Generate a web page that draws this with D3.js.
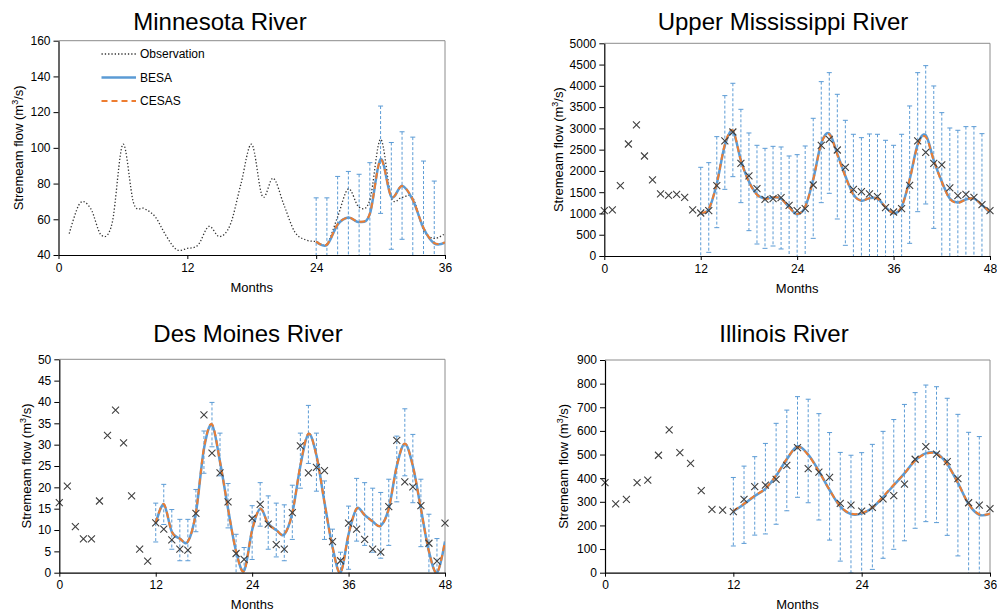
<!DOCTYPE html>
<html>
<head>
<meta charset="utf-8">
<script src="https://cdn.jsdelivr.net/npm/d3@7"></script>
<style>
  html, body { margin: 0; padding: 0; background: #fff; }
  svg { display: block; font-family: "Liberation Sans", Arial, sans-serif; }
</style>
</head>
<body>
<svg id="chart" width="997" height="613"></svg>
<script>
// ---------- Minnesota River (months 1..36 observed, estimates from month 24) ----------
const mnObsStart = 1;
const mnObs = [52, 69, 66, 51, 58, 102, 69, 66, 61.5, 51, 43, 43.7, 45.6, 56, 50.3, 57, 80, 102,
  72.7, 83, 68, 53, 48.5, 47.5, 46.2, 61.4, 77, 66.7, 70.8, 104.8, 72.3, 72.3, 72, 54, 49.3, 52];
const mnFitStart = 24;
const mnBesa  = [47.4, 45.6, 57, 61, 58.4, 63, 93.6, 72.6, 78.8, 70.8, 55, 46.5, 46.9];
const mnCesas = [47.6, 45.8, 57.2, 61, 58.6, 63.2, 93.2, 72.8, 78.6, 71, 55.2, 46.7, 47];
const mnErrStart = 24;
const mnErrHi = [72, 72, 84, 86.8, 85.2, 91.7, 123.4, 103, 109, 106, 92.6, 81.4];
const mnErrLo = [22.8, 19, 30, 35, 31.6, 34, 63.3, 43.2, 48.8, 35.8, 17.4, 11.5];
const mnYTicks = [40, 60, 80, 100, 120, 140, 160];
const mnXTicks = [0, 12, 24, 36];

// ---------- Upper Mississippi River (months 0..48) ----------
const umObsStart = 0;
const umObs = [1066, 1082, 1654, 2633, 3080, 2351, 1787, 1458, 1426, 1450,
  1379, 1082, 1011, 1066, 1654, 2704, 2915, 2179, 1881, 1583,
  1332, 1348, 1371, 1191, 1066, 1113, 1669, 2602, 2743, 2492,
  2085, 1567, 1513, 1458, 1395, 1136, 1034, 1113, 1661, 2704,
  2437, 2179, 2140, 1599, 1418, 1450, 1379, 1207, 1066];
const umFitStart = 12;
const umBesa = [1010, 1100, 1700, 2600, 2930, 2250, 1750, 1450, 1350, 1380, 1350, 1150, 980,
  1150, 1800, 2650, 2880, 2400, 1880, 1450, 1300, 1360, 1350, 1150, 1000,
  1150, 1800, 2620, 2840, 2250, 1750, 1350, 1260, 1330, 1350, 1200, 1020];
const umCesas = [1020, 1110, 1710, 2620, 2950, 2240, 1740, 1440, 1340, 1380, 1350, 1140, 990,
  1160, 1790, 2640, 2860, 2380, 1870, 1440, 1300, 1360, 1350, 1150, 1010,
  1160, 1790, 2600, 2800, 2250, 1740, 1340, 1250, 1330, 1350, 1200, 1030];
const umErrStart = 12;
const umErrHi = [2085, 2194, 2806, 3770, 4060, 3448, 2892, 2602, 2531, 2578, 2563, 2351,
  2382, 2586, 3237, 4099, 4310, 3801, 3190, 2861, 2782, 2868, 2861, 2720,
  2602, 2861, 3527, 4310, 4475, 3997, 3370, 3009, 2955, 3041, 3041, 2876];
const umErrLo = [-60, 86, 666, 1567, 1865, 1254, 596, 282, 180, 235, 165, -50,
  -422, -286, 415, 1254, 1473, 870, 251, -40, -182, -148, -161, -420,
  -602, -561, 298, 1042, 1223, 650, -100, -309, -435, -381, -341, -476];
const umYTicks = [0, 500, 1000, 1500, 2000, 2500, 3000, 3500, 4000, 4500, 5000];
const umXTicks = [0, 12, 24, 36, 48];

// ---------- Des Moines River (months 0..48) ----------
const dmObsStart = 0;
const dmObs = [16.4, 20.3, 10.8, 7.9, 7.9, 16.8, 32.2, 38.1, 30.4, 18.0,
  5.5, 2.7, 11.7, 10.2, 7.7, 5.5, 5.3, 13.9, 37.0, 28.0,
  23.4, 16.6, 4.5, 3.1, 12.7, 16.0, 11.4, 6.6, 5.5, 14.1,
  29.7, 23.4, 24.7, 23.9, 7.3, 2.8, 11.6, 10.2, 7.8, 5.5,
  4.8, 15.5, 31.0, 21.3, 20.1, 15.7, 6.9, 2.7, 11.6];
const dmFitStart = 12;
const dmBesa = [11.5, 16, 9.6, 8, 7.3, 14, 29, 34.6, 26, 15, 5, 0.5, 10,
  15, 11.5, 10, 9, 14, 25, 32.5, 27.5, 16.5, 6, 0, 9,
  15, 13.5, 12, 11, 15, 25, 30.2, 25, 15, 5, 0, 7.3];
const dmCesas = [11.6, 16.1, 9.6, 8, 7.3, 14.1, 29.2, 34.8, 26, 15, 5, 0.4, 10,
  15, 11.4, 10, 9, 14, 25.2, 32.6, 27.4, 16.5, 6, 0, 9,
  15, 13.5, 12, 11, 15, 25, 30.3, 25, 15, 5, 0, 7.4];
const dmErrStart = 12;
const dmErrHi = [16.3, 20.7, 14.8, 12.5, 12.5, 19.5, 33.2, 39.9, 32.7, 20.9, 9.0, 5.9,
  15.7, 21.1, 18.0, 16.3, 15.9, 20.5, 32.7, 39.2, 32.7, 21.5, 10.2, 4.8,
  15.6, 22.1, 21.1, 19.8, 18.8, 21.9, 32.0, 38.4, 32.4, 21.9, 13.7, 8.0];
const dmErrLo = [7.2, 11.3, 5.5, 2.8, 2.8, 9.6, 23.3, 29.5, 22.7, 10.5, -1, -5,
  3.1, 10.9, 5.5, 3.7, 2.8, 7.8, 19.8, 25.6, 19.1, 7.8, -2, -5,
  0.8, 7.4, 6.4, 4.8, 3.4, 6.4, 16.6, 22.7, 16.4, 6.1, -4, -8];
const dmYTicks = [0, 5, 10, 15, 20, 25, 30, 35, 40, 45, 50];
const dmXTicks = [0, 12, 24, 36, 48];

// ---------- Illinois River (months 0..36) ----------
const ilObsStart = 0;
const ilObs = [381, 291, 310, 381, 392, 497, 604, 508, 463, 347,
  268, 265, 258, 310, 364, 371, 395, 454, 529, 440,
  426, 403, 293, 286, 261, 276, 312, 326, 375, 480,
  533, 502, 470, 398, 296, 286, 271];
const ilFitStart = 12;
const ilBesa = [260, 290, 325, 355, 410, 480, 535, 500, 430, 350, 280, 248, 250,
  275, 320, 370, 420, 475, 505, 505, 460, 380, 290, 245, 250];
const ilCesas = [262, 292, 326, 356, 412, 482, 532, 498, 428, 350, 281, 250, 252,
  276, 322, 372, 420, 474, 503, 503, 458, 380, 291, 247, 250];
const ilErrStart = 12;
const ilErrHi = [403, 451, 491, 547, 632, 688, 745, 734, 673, 593, 509, 497,
  508, 543, 598, 648, 712, 762, 794, 787, 738, 670, 594, 576];
const ilErrLo = [113, 124, 159, 164, 205, 262, 319, 296, 223, 138, 49, -1,
  -8, 14, 61, 99, 135, 188, 216, 212, 158, 71, -14, -86];
const ilYTicks = [0, 100, 200, 300, 400, 500, 600, 700, 800, 900];
const ilXTicks = [0, 12, 24, 36];

const legendItems = ["Observation", "BESA", "CESAS"];

// ---------- styling ----------
const BLUE = "#5b9bd5";
const ORANGE = "#ed7d31";
const MARK = "#404040";
const FONT = "'Liberation Sans', Arial, sans-serif";

const svg = d3.select("#chart");

// pair a value list with month positions
const withMonths = (start, vals) => vals.map((v, i) => ({ m: start + i, v }));

function drawPanel(cfg, id) {
  const x = d3.scaleLinear().domain(cfg.xDomain).range([cfg.left, cfg.right]);
  const y = d3.scaleLinear().domain(cfg.yDomain).range([cfg.bottom, cfg.top]);
  const g = svg.append("g");

  // clip region for the plot area
  g.append("clipPath").attr("id", "clip" + id)
    .append("rect")
    .attr("x", cfg.left).attr("y", cfg.top)
    .attr("width", cfg.right - cfg.left).attr("height", cfg.bottom - cfg.top);

  // title
  g.append("text")
    .attr("x", cfg.titleX).attr("y", cfg.titleY)
    .attr("text-anchor", "middle")
    .style("font-size", "24px").style("font-family", FONT).attr("fill", "#000")
    .text(cfg.title);

  // plot area frame (top and right)
  g.append("path")
    .attr("d", `M${cfg.left},${cfg.top}H${cfg.right}V${cfg.bottom}`)
    .attr("fill", "none").attr("stroke", "#8c8c8c").attr("stroke-width", 1);

  const plot = g.append("g").attr("clip-path", `url(#clip${id})`);

  // error bars
  const errs = cfg.errHi.map((hi, i) => ({ m: cfg.errStart + i, hi, lo: cfg.errLo[i] }));
  const eb = plot.append("g").attr("stroke", BLUE).attr("stroke-width", 1).attr("fill", "none");
  errs.forEach(d => {
    const cx = x(d.m);
    eb.append("line")
      .attr("x1", cx).attr("x2", cx).attr("y1", y(d.hi)).attr("y2", y(d.lo))
      .attr("stroke-dasharray", "3,2");
    [d.hi, d.lo].forEach(v => {
      eb.append("line")
        .attr("x1", cx - 2.5).attr("x2", cx + 2.5).attr("y1", y(v)).attr("y2", y(v));
    });
  });

  const smooth = d3.line().x(d => x(d.m)).y(d => y(d.v)).curve(d3.curveCatmullRom.alpha(0));

  // observation as dotted line
  if (cfg.obsStyle === "line") {
    plot.append("path")
      .datum(withMonths(cfg.obsStart, cfg.obs))
      .attr("d", smooth)
      .attr("fill", "none").attr("stroke", "#333").attr("stroke-width", 1.3)
      .attr("stroke-dasharray", "1.3,2");
  }

  // BESA and CESAS estimates
  plot.append("path")
    .datum(withMonths(cfg.fitStart, cfg.besa))
    .attr("d", smooth)
    .attr("fill", "none").attr("stroke", BLUE).attr("stroke-width", 2.5);
  plot.append("path")
    .datum(withMonths(cfg.fitStart, cfg.cesas))
    .attr("d", smooth)
    .attr("fill", "none").attr("stroke", ORANGE).attr("stroke-width", 2)
    .attr("stroke-dasharray", "6,4");

  // observation as X markers
  if (cfg.obsStyle === "x") {
    const s = 3.5;
    g.append("g").selectAll("path")
      .data(withMonths(cfg.obsStart, cfg.obs))
      .join("path")
      .attr("d", d => {
        const px = x(d.m), py = y(d.v);
        return `M${px - s},${py - s}L${px + s},${py + s}M${px - s},${py + s}L${px + s},${py - s}`;
      })
      .attr("stroke", MARK).attr("stroke-width", 1.1).attr("fill", "none");
  }

  // axes
  const xAxis = g.append("g").attr("transform", `translate(0,${cfg.bottom})`)
    .call(d3.axisBottom(x).tickValues(cfg.xTicks).tickSize(4).tickSizeOuter(0).tickPadding(4)
      .tickFormat(d3.format("d")));
  const yAxis = g.append("g").attr("transform", `translate(${cfg.left},0)`)
    .call(d3.axisLeft(y).tickValues(cfg.yTicks).tickSize(5).tickSizeOuter(0).tickPadding(3)
      .tickFormat(d3.format("d")));
  [xAxis, yAxis].forEach(a => {
    a.select(".domain").attr("stroke", "#000").attr("stroke-width", 1.2);
    a.selectAll(".tick line").attr("stroke", "#000");
    a.selectAll(".tick text").style("font-size", "12px").style("font-family", FONT).attr("fill", "#000");
  });

  // axis titles
  g.append("text")
    .attr("x", (cfg.left + cfg.right) / 2).attr("y", cfg.xTitleY)
    .attr("text-anchor", "middle")
    .style("font-size", "13px").style("font-family", FONT)
    .text("Months");

  const yt = g.append("text")
    .attr("transform", `translate(${cfg.yTitleX},${(cfg.top + cfg.bottom) / 2}) rotate(-90)`)
    .attr("text-anchor", "middle").attr("dy", "0.35em")
    .style("font-size", "13px").style("font-family", FONT);
  yt.append("tspan").text("Stremeam flow (m");
  yt.append("tspan").attr("dy", -5).style("font-size", "9px").text("3");
  yt.append("tspan").attr("dy", 5).text("/s)");

  return { g, x, y };
}

const mn = drawPanel({
  title: "Minnesota River", titleX: 220, titleY: 30,
  left: 58.5, right: 445, top: 40.7, bottom: 255,
  xDomain: [0, 36], yDomain: [40, 160], xTicks: mnXTicks, yTicks: mnYTicks,
  xTitleY: 292, yTitleX: 18,
  obsStyle: "line", obsStart: mnObsStart, obs: mnObs,
  fitStart: mnFitStart, besa: mnBesa, cesas: mnCesas,
  errStart: mnErrStart, errHi: mnErrHi, errLo: mnErrLo
}, 1);

drawPanel({
  title: "Upper Mississippi River", titleX: 783, titleY: 30,
  left: 604.3, right: 990, top: 43.3, bottom: 256,
  xDomain: [0, 48], yDomain: [0, 5000], xTicks: umXTicks, yTicks: umYTicks,
  xTitleY: 293, yTitleX: 558,
  obsStyle: "x", obsStart: umObsStart, obs: umObs,
  fitStart: umFitStart, besa: umBesa, cesas: umCesas,
  errStart: umErrStart, errHi: umErrHi, errLo: umErrLo
}, 2);

drawPanel({
  title: "Des Moines River", titleX: 248, titleY: 342,
  left: 59.3, right: 445, top: 359.3, bottom: 572.7,
  xDomain: [0, 48], yDomain: [0, 50], xTicks: dmXTicks, yTicks: dmYTicks,
  xTitleY: 609, yTitleX: 26,
  obsStyle: "x", obsStart: dmObsStart, obs: dmObs,
  fitStart: dmFitStart, besa: dmBesa, cesas: dmCesas,
  errStart: dmErrStart, errHi: dmErrHi, errLo: dmErrLo
}, 3);

drawPanel({
  title: "Illinois River", titleX: 784, titleY: 342,
  left: 605, right: 990, top: 360, bottom: 572.7,
  xDomain: [0, 36], yDomain: [0, 900], xTicks: ilXTicks, yTicks: ilYTicks,
  xTitleY: 609, yTitleX: 563,
  obsStyle: "x", obsStart: ilObsStart, obs: ilObs,
  fitStart: ilFitStart, besa: ilBesa, cesas: ilCesas,
  errStart: ilErrStart, errHi: ilErrHi, errLo: ilErrLo
}, 4);

// legend in the Minnesota panel
const lg = svg.append("g").style("font-family", FONT).style("font-size", "12px");
const legendRows = [54, 77.5, 101];
const legendStyles = [
  { stroke: "#333", width: 1.3, dash: "1.3,2" },
  { stroke: BLUE, width: 2.5, dash: null },
  { stroke: ORANGE, width: 2, dash: "6,4" }
];
legendItems.forEach((name, i) => {
  const st = legendStyles[i];
  lg.append("line")
    .attr("x1", 101.5).attr("x2", 136).attr("y1", legendRows[i]).attr("y2", legendRows[i])
    .attr("stroke", st.stroke).attr("stroke-width", st.width)
    .attr("stroke-dasharray", st.dash);
  lg.append("text")
    .attr("x", 140).attr("y", legendRows[i]).attr("dy", "0.35em")
    .text(name);
});
</script>
</body>
</html>
